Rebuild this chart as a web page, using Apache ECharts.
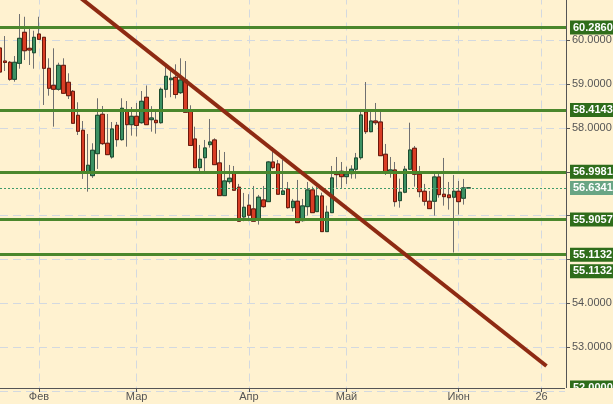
<!DOCTYPE html>
<html><head><meta charset="utf-8">
<script src="https://cdn.jsdelivr.net/npm/echarts@6/dist/echarts.min.js"></script>
<style>html,body{margin:0;padding:0;background:#FFF2D0}#c{width:613px;height:404px}</style>
</head><body><div id="c"></div>
<script>
const categories = [
'2017-01-20','2017-01-23','2017-01-24','2017-01-25','2017-01-26','2017-01-27','2017-01-30','2017-01-31',
'2017-02-01','2017-02-02','2017-02-03','2017-02-06','2017-02-07','2017-02-08','2017-02-09','2017-02-10',
'2017-02-13','2017-02-14','2017-02-15','2017-02-16','2017-02-17','2017-02-20','2017-02-21','2017-02-22',
'2017-02-23','2017-02-24','2017-02-27','2017-02-28',
'2017-03-01','2017-03-02','2017-03-03','2017-03-06','2017-03-07','2017-03-08','2017-03-09','2017-03-10',
'2017-03-13','2017-03-14','2017-03-15','2017-03-16','2017-03-17','2017-03-20','2017-03-21','2017-03-22',
'2017-03-23','2017-03-24','2017-03-27','2017-03-28','2017-03-29','2017-03-30','2017-03-31',
'2017-04-03','2017-04-04','2017-04-05','2017-04-06','2017-04-07','2017-04-10','2017-04-11','2017-04-12',
'2017-04-13','2017-04-14','2017-04-17','2017-04-18','2017-04-19','2017-04-20','2017-04-21','2017-04-24',
'2017-04-25','2017-04-26','2017-04-27','2017-04-28',
'2017-05-01','2017-05-02','2017-05-03','2017-05-04','2017-05-05','2017-05-08','2017-05-09','2017-05-10',
'2017-05-11','2017-05-12','2017-05-15','2017-05-16','2017-05-17','2017-05-18','2017-05-19','2017-05-22',
'2017-05-23','2017-05-24','2017-05-25','2017-05-26','2017-05-29','2017-05-30','2017-05-31',
'2017-06-01','2017-06-02','2017-06-05','2017-06-06','2017-06-07','2017-06-08','2017-06-09','2017-06-12',
'2017-06-13','2017-06-14','2017-06-15','2017-06-16','2017-06-19','2017-06-20','2017-06-21','2017-06-22',
'2017-06-23','2017-06-26','2017-06-27','2017-06-28','2017-06-29','2017-06-30','2017-07-03'
];
const tickLabels = {'2017-02-01':'Фев','2017-03-01':'Мар','2017-04-03':'Апр','2017-05-01':'Май','2017-06-01':'Июн','2017-06-26':'26'};

const openV = [59.825,59.528,59.499,59.111,59.476,60.183,59.818,59.717,60.144,60.069,59.362,58.974,58.883,59.430,59.043,58.837,58.290,57.948,56.968,56.913,
57.415,58.313,57.652,57.339,58.062,57.734,58.381,58.076,58.267,58.121,58.701,58.190,58.176,58.121,58.883,59.102,59.157,58.806,59.095,58.377,
57.750,57.095,57.323,57.620,57.727,57.203,56.457,56.776,56.968,56.649,55.971,56.238,56.154,55.919,56.359,56.320,57.225,57.180,56.484,56.610,
56.183,56.329,55.887,56.206,56.587,56.092,56.450,55.636,56.069,56.975,57.013,56.890,56.959,57.059,57.323,58.365,57.916,58.160,58.137,57.401,
56.991,57.043,56.343,56.535,57.059,57.538,56.945,56.557,56.329,56.329,56.883,56.489,56.473,56.421,56.557,56.398,56.634];
const closeV = [59.277,59.494,59.111,59.499,60.046,59.763,59.779,60.069,60.023,59.362,58.906,58.883,59.430,58.792,58.737,58.108,57.925,56.997,57.150,57.492,
58.290,57.643,57.392,57.978,57.734,58.450,58.076,58.267,58.058,58.609,58.076,58.229,58.121,58.883,59.179,59.136,58.764,59.095,58.359,57.602,
57.095,57.287,57.545,57.681,57.164,56.457,56.792,56.854,56.580,55.873,56.192,56.010,55.873,56.421,56.206,57.225,57.095,56.489,56.564,56.183,
56.329,55.841,56.222,56.587,56.069,56.450,55.636,56.079,56.861,56.936,56.890,56.952,57.059,57.317,58.297,57.916,58.160,58.121,57.369,57.004,
57.043,56.320,56.535,57.059,57.499,56.945,56.548,56.329,56.161,56.883,56.480,56.434,56.411,56.557,56.320,56.634,56.634];
const lowV = [59.232,59.300,59.079,59.056,59.353,59.551,59.437,59.353,60.007,58.525,58.737,58.030,58.851,58.776,58.662,58.092,57.841,56.838,56.548,56.861,
57.066,57.613,57.385,57.301,57.574,57.711,57.574,57.825,57.807,58.099,58.069,57.916,57.871,58.099,58.691,58.703,58.673,58.776,58.350,57.590,
57.089,56.997,56.997,57.552,57.157,56.450,56.450,56.724,56.575,55.870,55.873,55.873,55.870,55.796,56.183,56.320,57.059,56.485,56.480,56.161,
56.092,55.840,55.864,56.001,56.065,56.090,55.630,55.630,56.065,56.639,56.633,56.724,56.845,56.845,57.278,57.864,57.903,58.069,57.365,56.929,
56.867,56.206,56.183,56.512,57.043,56.662,56.420,56.229,56.160,56.001,56.411,56.229,56.138,55.158,56.024,56.252,56.634];
const highV = [59.916,60.098,59.528,59.642,60.600,60.538,60.274,60.219,60.538,60.075,59.590,59.818,59.489,59.590,59.248,58.867,58.587,58.160,57.864,57.652,
58.678,58.502,58.320,58.137,58.137,58.678,58.616,58.479,58.571,58.844,58.970,58.498,58.388,58.924,59.414,59.339,59.453,59.590,59.528,58.518,
58.030,57.613,57.727,58.206,57.766,57.499,57.453,57.157,57.134,56.724,56.519,56.489,56.678,56.473,56.678,57.248,57.561,57.271,57.271,56.769,
56.382,56.815,56.382,56.769,56.662,56.662,56.525,56.229,57.134,57.339,57.225,57.118,57.150,57.431,58.434,59.049,58.388,58.571,58.372,57.636,
57.339,57.225,56.845,57.134,58.121,57.590,57.134,56.724,56.564,56.997,56.959,57.317,56.769,56.929,56.792,56.838,56.634];

const levels = [60.2860, 58.4143, 56.9981, 55.9057, 55.1132];
const currentPrice = 56.6341;
const extraLabelValues = [54.727, 52.08];
const extraLabelTexts = ['55.1132', '52.0000'];
const trendDates = ['2017-01-20', '2017-06-27'];
const trendValues = [62.42, 52.57];
const hiddenYLabels = [52, 55, 56, 57];

const FONT = 'Liberation Sans, Arial, sans-serif';
const BG = '#FFF2D0';
const GRID = '#D3D9E0';
const AXIS = '#555555';

const ohlc = openV.map((o, i) => [o, closeV[i], lowV[i], highV[i]]);
const bodies = openV.map((o, i) => [o, closeV[i], Math.min(o, closeV[i]), Math.max(o, closeV[i])]);
const isTick = (idx, val) => tickLabels[val] !== undefined;

const labelBase = {
  show: true, position: 'end', distance: 4, color: '#fff', fontWeight: 'bold',
  fontSize: 11, fontFamily: FONT, padding: [2, 3, 1, 3]
};
const mlData = [];
levels.forEach(v => mlData.push({
  yAxis: v,
  lineStyle: { color: '#4B872C', width: 3, type: 'solid' },
  label: Object.assign({}, labelBase, { backgroundColor: '#2F6D1B', formatter: () => v.toFixed(4) })
}));
mlData.push({
  yAxis: currentPrice,
  lineStyle: { color: '#3F9B6B', width: 1, type: [2, 2] },
  label: Object.assign({}, labelBase, { backgroundColor: '#69A584', formatter: () => currentPrice.toFixed(4) })
});
extraLabelValues.forEach((v, i) => mlData.push({
  yAxis: v,
  lineStyle: { color: 'rgba(0,0,0,0)', width: 0 },
  label: Object.assign({}, labelBase, { backgroundColor: '#2F6D1B', formatter: () => extraLabelTexts[i] })
}));

const chart = echarts.init(document.getElementById('c'), null, { renderer: 'canvas' });
chart.setOption({
  animation: false,
  backgroundColor: BG,
  grid: { left: 0, right: 47, top: -3.5, bottom: 13, containLabel: false, outerBoundsMode: 'none' },
  xAxis: {
    type: 'category', data: categories, boundaryGap: false, offset: -3,
    axisLine: { show: true, lineStyle: { color: AXIS, width: 1 } },
    axisTick: { show: true, interval: isTick, length: 4, lineStyle: { color: AXIS } },
    axisLabel: { interval: isTick, formatter: v => tickLabels[v] || '', color: AXIS, fontSize: 11, fontFamily: FONT, margin: 3 },
    splitLine: { show: true, interval: isTick, lineStyle: { color: GRID, type: [8, 5], width: 1 } }
  },
  yAxis: {
    type: 'value', position: 'right', min: 52, max: 61, interval: 1,
    axisLine: { show: true, lineStyle: { color: AXIS, width: 1 } },
    axisTick: { show: true, length: 4, lineStyle: { color: AXIS } },
    axisLabel: {
      color: AXIS, fontSize: 11, fontFamily: FONT, margin: 6, hideOverlap: false,
      formatter: v => hiddenYLabels.indexOf(v) >= 0 ? '' : v.toFixed(4)
    },
    splitLine: { show: true, lineStyle: { color: GRID, type: [8, 5], width: 1 } }
  },
  series: [
    {
      type: 'candlestick', data: ohlc, barWidth: 4, z: 2,
      itemStyle: { color: 'rgba(0,0,0,0)', color0: 'rgba(0,0,0,0)', borderColor: '#707070', borderColor0: '#707070', borderColorDoji: '#707070', borderWidth: 1 }
    },
    {
      type: 'candlestick', data: bodies, barWidth: 4, z: 3,
      itemStyle: { color: '#3C9163', color0: '#D93D25', borderColor: '#1D4D30', borderColor0: '#6B1A0C', borderColorDoji: '#1D4D30', borderWidth: 1 }
    },
    {
      type: 'line', data: [], z: 4,
      markLine: { symbol: 'none', silent: true, animation: false, data: mlData }
    },
    {
      type: 'line', z: 5, symbol: 'none', clip: true,
      data: trendDates.map((d, i) => [d, trendValues[i]]),
      lineStyle: { color: '#8E2A12', width: 4 }
    }
  ],
  graphic: [{
    type: 'rect', z: 100, shape: { x: 565, y: 388, width: 48, height: 16 },
    style: { fill: BG }
  }]
});
</script></body></html>
